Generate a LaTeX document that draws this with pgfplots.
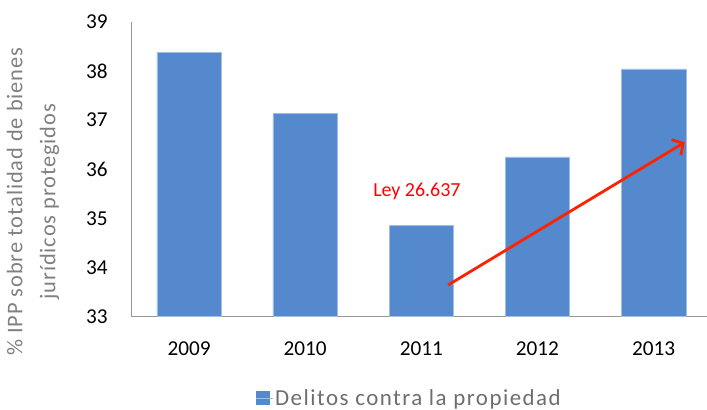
\documentclass[border=0pt]{standalone}
\usepackage{pgfplots}
\pgfplotsset{compat=1.18}
\usepackage{fontspec}
\setmainfont{Carlito}
\newfontfamily\labfont[LetterSpace=4]{Carlito}
\newfontfamily\legfont[LetterSpace=6.5]{Carlito}
\usetikzlibrary{arrows.meta}
\definecolor{barblue}{RGB}{85,137,205}
\definecolor{baredge}{RGB}{160,190,230}
\definecolor{arrowred}{RGB}{255,34,0}
\definecolor{lblgray}{RGB}{128,128,128}
\definecolor{leggray}{RGB}{110,110,110}
\definecolor{axgray}{RGB}{150,150,150}
\pgfplotsset{/pgfplots/ybar legend/.style={/pgfplots/legend image code/.code={\fill[barblue] (0bp,-6.2bp) rectangle (12.7bp,6.5bp); \path (0bp,0bp) -- (16.5bp,0bp);}}}
\begin{document}
\begin{tikzpicture}
\path[use as bounding box] (-131bp,-93.3bp) rectangle (576bp,316.7bp);
\begin{axis}[
  at={(0,0)}, anchor=south west,
  scale only axis, width=576bp, height=295bp,
  xmin=-0.5, xmax=4.46, ymin=33, ymax=39,
  axis x line=bottom, axis y line=left,
  axis line style={axgray, -, line width=0.9bp},
  xtick={0,1,2,3,4}, xticklabels={2009,2010,2011,2012,2013},
  ytick={33,34,35,36,37,38,39},
  tick style={draw=none},
  /pgf/number format/assume math mode=true,
  ticklabel style={font=\fontsize{21.3}{25}\selectfont, text=black, inner sep=0pt},
  xticklabel style={anchor=north, yshift=-22.3bp},
  yticklabel style={anchor=east, xshift=-21bp},
  ylabel={\% IPP sobre totalidad de bienes\\jurídicos protegidos},
  ylabel style={at={(axis description cs:-0.170,0.39)}, anchor=center, align=center,
    font=\labfont\fontsize{22.5}{33}\selectfont, text=lblgray},
  legend style={at={(axis description cs:0.4835,-0.2756)}, anchor=center, draw=none, fill=none,
    font=\legfont\fontsize{23}{27}\selectfont, text=leggray},
  clip=true,
]
\addplot[ybar, bar width=64.5bp, bar shift=0pt, fill=barblue, draw=baredge, line width=0.5bp,
  legend image code/.code={\fill[barblue] (0bp,-6.2bp) rectangle (12.7bp,6.5bp); \path (0bp,0bp) -- (16.5bp,0bp);}]
  coordinates {(0,38.38) (1,37.13) (2,34.86) (3,36.25) (4,38.04)};
\addlegendentry{Delitos contra la propiedad}
\draw[arrowred, line width=2.8bp, -{Straight Barb[length=8bp, width=18bp, line width=2.8bp]}] (axis cs:2.231,33.645) -- (axis cs:4.268,36.547);
\node[text=red, anchor=base, font=\fontsize{20}{24}\selectfont, inner sep=0pt] at (axis cs:1.962,35.44) {Ley 26.637};
\end{axis}
\end{tikzpicture}
\end{document}
